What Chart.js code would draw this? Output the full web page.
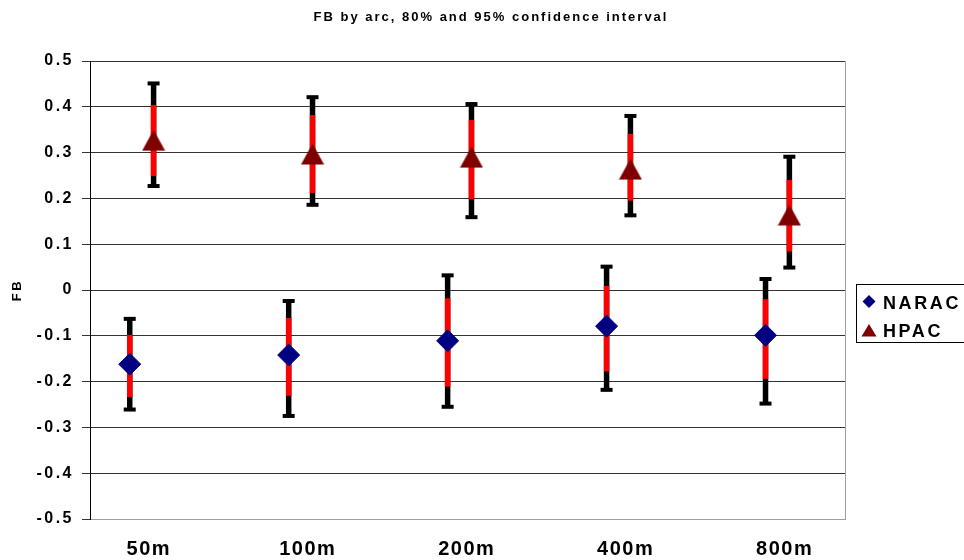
<!DOCTYPE html>
<html>
<head>
<meta charset="utf-8">
<script src="https://cdn.jsdelivr.net/npm/chart.js@4/dist/chart.umd.min.js"></script>
<style>
  html, body { margin: 0; padding: 0; background: #fff; }
</style>
</head>
<body>
<canvas id="fbChart" width="964" height="560"></canvas>
<script>
const categories = ['50m', '100m', '200m', '400m', '800m'];

// NARAC: FB and its 80% / 95% confidence limits
const naracFB   = [-0.162, -0.142, -0.111, -0.079, -0.099];
const naracLo95 = [-0.261, -0.275, -0.255, -0.218, -0.248];
const naracLo80 = [-0.234, -0.231, -0.211, -0.178, -0.194];
const naracHi80 = [-0.098, -0.061, -0.018,  0.009, -0.020];
const naracHi95 = [-0.063, -0.024,  0.032,  0.051,  0.024];

// HPAC
const hpacFB   = [0.327, 0.297, 0.290, 0.264, 0.164];
const hpacLo95 = [0.227, 0.186, 0.159, 0.163, 0.049];
const hpacLo80 = [0.249, 0.212, 0.198, 0.195, 0.084];
const hpacHi80 = [0.404, 0.382, 0.371, 0.341, 0.240];
const hpacHi95 = [0.451, 0.421, 0.406, 0.380, 0.291];

const FONT = 'Arial, "Liberation Sans", sans-serif';
const SPACING = '2.5px';

// the two series sit side by side inside each arc slot
const naracX = categories.map((c, i) => i + 1);
const hpacX = categories.map((c, i) => i + 1.15);

// triangle marker centred on its box, like the spreadsheet one
const tri = document.createElement('canvas');
tri.width = 24;
tri.height = 22;
(function () {
  const c = tri.getContext('2d');
  c.fillStyle = '#800000';
  c.beginPath();
  c.moveTo(12, 0.5);
  c.lineTo(23.5, 21.5);
  c.lineTo(0.5, 21.5);
  c.closePath();
  c.fill();
})();

const spacing = {
  id: 'spacing',
  beforeLayout(chart) { chart.ctx.letterSpacing = SPACING; },
  beforeDraw(chart) { chart.ctx.letterSpacing = SPACING; }
};

const errorBars = {
  id: 'errorBars',
  beforeDatasetsDraw(chart) {
    const { ctx, scales: { x, y }, chartArea } = chart;
    ctx.save();
    // plot frame, right side
    ctx.strokeStyle = '#a0a0a0';
    ctx.lineWidth = 1;
    ctx.beginPath();
    ctx.moveTo(Math.round(chartArea.right) + 0.5, chartArea.top);
    ctx.lineTo(Math.round(chartArea.right) + 0.5, chartArea.bottom);
    ctx.stroke();

    const series = [
      { xs: naracX, lo95: naracLo95, lo80: naracLo80, hi80: naracHi80, hi95: naracHi95 },
      { xs: hpacX, lo95: hpacLo95, lo80: hpacLo80, hi80: hpacHi80, hi95: hpacHi95 }
    ];
    const line = (x1, y1, x2, y2) => {
      ctx.beginPath();
      ctx.moveTo(x1, y1);
      ctx.lineTo(x2, y2);
      ctx.stroke();
    };
    series.forEach(s => {
      s.xs.forEach((xv, i) => {
        const px = x.getPixelForValue(xv);
        const a = y.getPixelForValue(s.lo95[i]);
        const b = y.getPixelForValue(s.hi95[i]);
        ctx.strokeStyle = '#000';
        ctx.lineWidth = 5.5;
        line(px, a, px, b);
        ctx.lineWidth = 4;
        line(px - 6, a, px + 6, a);
        line(px - 6, b, px + 6, b);
        ctx.strokeStyle = '#ff0000';
        ctx.lineWidth = 5.5;
        line(px, y.getPixelForValue(s.lo80[i]), px, y.getPixelForValue(s.hi80[i]));
      });
    });
    ctx.restore();
  },
  afterDraw(chart) {
    const ctx = chart.ctx;
    ctx.save();
    ctx.letterSpacing = '2px';
    ctx.fillStyle = '#000';
    ctx.font = 'bold 13px ' + FONT;
    ctx.textAlign = 'center';
    ctx.textBaseline = 'alphabetic';
    ctx.fillText('FB by arc, 80% and 95% confidence interval', 491, 21);

    // legend
    ctx.strokeStyle = '#000';
    ctx.lineWidth = 1;
    ctx.strokeRect(856.5, 284.5, 120, 58);
    ctx.fillStyle = '#000080';
    ctx.beginPath();
    ctx.moveTo(869, 295);
    ctx.lineTo(875.5, 301.5);
    ctx.lineTo(869, 308);
    ctx.lineTo(862.5, 301.5);
    ctx.closePath();
    ctx.fill();
    ctx.fillStyle = '#800000';
    ctx.beginPath();
    ctx.moveTo(869, 324);
    ctx.lineTo(876.5, 336.5);
    ctx.lineTo(861.5, 336.5);
    ctx.closePath();
    ctx.fill();
    ctx.fillStyle = '#000';
    ctx.font = 'bold 18px ' + FONT;
    ctx.textAlign = 'left';
    ctx.letterSpacing = '2.6px';
    ctx.fillText(chart.data.datasets[0].label, 883, 308.5);
    ctx.fillText(chart.data.datasets[1].label, 883, 336.5);
    ctx.restore();
  }
};

new Chart(document.getElementById('fbChart'), {
  type: 'scatter',
  data: {
    datasets: [
      {
        label: 'NARAC',
        data: naracX.map((xv, i) => ({ x: xv, y: naracFB[i] })),
        pointStyle: 'rectRot',
        pointRadius: 11,
        pointBackgroundColor: '#000080',
        pointBorderColor: '#000080',
        pointBorderWidth: 1
      },
      {
        label: 'HPAC',
        data: hpacX.map((xv, i) => ({ x: xv, y: hpacFB[i] })),
        pointStyle: tri,
        pointRadius: 11
      }
    ]
  },
  options: {
    responsive: false,
    animation: false,
    devicePixelRatio: 1,
    layout: { padding: { top: 61, right: 119, bottom: 0, left: 0 } },
    plugins: {
      legend: { display: false },
      title: { display: false },
      tooltip: { enabled: false }
    },
    scales: {
      x: {
        type: 'linear',
        min: 0.75,
        max: 5.5,
        afterBuildTicks(scale) {
          scale.ticks = categories.map((c, i) => ({ value: i + 1.12 }));
        },
        afterFit(scale) {
          scale.height = 41;
          // tighter letter spacing for the arc labels
          const draw = Chart.Scale.prototype.drawLabels;
          scale.drawLabels = function (area) {
            this.ctx.letterSpacing = '1.5px';
            draw.call(this, area);
            this.ctx.letterSpacing = SPACING;
          };
        },
        grid: { display: false, drawTicks: false },
        border: { color: '#a0a0a0', width: 1 },
        ticks: {
          padding: 18,
          color: '#000',
          font: { family: FONT, size: 20, weight: 'bold' },
          maxRotation: 0,
          autoSkip: false,
          callback: (v, i) => categories[i]
        }
      },
      y: {
        min: -0.5,
        max: 0.5,
        afterFit(scale) { scale.width = 90; },
        grid: { color: '#333', lineWidth: 1, drawTicks: true, tickLength: 8, tickColor: '#333' },
        border: { color: '#000', width: 1 },
        ticks: {
          stepSize: 0.1,
          padding: 8,
          color: '#000',
          font: { family: FONT, size: 16, weight: 'bold' },
          callback: v => String(Math.round(v * 10) / 10)
        },
        title: {
          display: true,
          text: 'FB',
          color: '#000',
          padding: { top: 10, bottom: 0 },
          font: { family: FONT, size: 13, weight: 'bold' }
        }
      }
    }
  },
  plugins: [spacing, errorBars]
});
</script>
</body>
</html>
